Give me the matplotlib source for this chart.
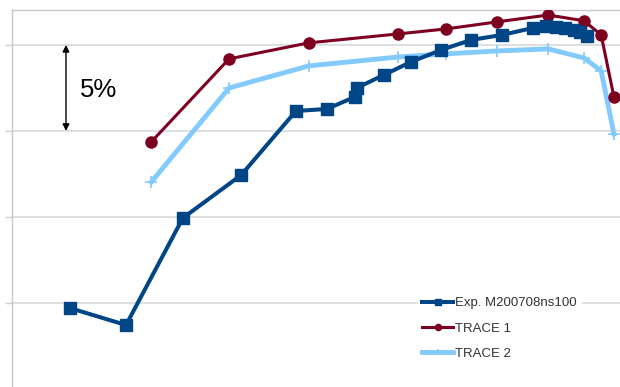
import matplotlib
matplotlib.use("Agg")
import matplotlib.pyplot as plt

plt.rcParams['font.family'] = ['Liberation Sans', 'DejaVu Sans']

# Measured series (x: operating point, y: relative value in %)
exp_x = [9.5, 18.75, 28.1, 37.7, 46.7, 51.8, 56.4, 56.7, 61.2, 65.6, 70.6, 75.5,
         80.6, 85.7, 87.8, 89.5, 91.0, 92.4, 93.4, 94.6]
exp_y = [84.71, 83.72, 89.94, 92.44, 96.16, 96.28, 96.98, 97.50, 98.26, 99.01,
         99.71, 100.29, 100.58, 100.99, 101.10, 101.05, 100.99, 100.87, 100.76, 100.52]

trace_x = [22.9, 35.7, 48.8, 63.5, 71.4, 79.8, 88.2, 94.1, 96.9, 99.0]
trace1_y = [94.36, 99.19, 100.12, 100.64, 100.93, 101.34, 101.74, 101.40, 100.58, 96.98]
trace2_y = [92.03, 97.50, 98.78, 99.30, 99.48, 99.65, 99.77, 99.24, 98.49, 94.83]

labels = ["Exp. M200708ns100", "TRACE 1", "TRACE 2"]
grid_levels = [85, 90, 95, 100]

fig = plt.figure(figsize=(6.2, 3.87), dpi=100)
ax = fig.add_axes([12 / 620, 0, 1 - 12 / 620, 1 - 10 / 387])

ax.plot(exp_x, exp_y, color="#004586", lw=2.9, marker="s", ms=9,
        label=labels[0], zorder=4)
ax.plot(trace_x, trace1_y, color="#7e0021", lw=2.2, marker="o", ms=8,
        label=labels[1], zorder=3)
ax.plot(trace_x, trace2_y, color="#83caff", lw=3.5, marker="+", ms=9, mew=1.2,
        label=labels[2], zorder=2)

ax.set_xlim(0, 100)
ax.set_ylim(80.12, 102.03)
ax.set_xticks([])
ax.set_yticks(grid_levels)
ax.set_yticklabels([])
ax.tick_params(axis="y", length=5, color="#d0d0d0", width=1)
ax.grid(axis="y", color="#d9d9d9", lw=1.2)
ax.set_axisbelow(True)
for side in ("right", "bottom"):
    ax.spines[side].set_visible(False)
for side in ("left", "top"):
    ax.spines[side].set_color("#c8c8c8")
    ax.spines[side].set_linewidth(1)

# 5% scale bar
ax.annotate("", xy=(8.88, 100), xytext=(8.88, 95),
            arrowprops=dict(arrowstyle="<|-|>", color="black", lw=1,
                            mutation_scale=10, shrinkA=0, shrinkB=0))
ax.text(11.1, 97.4, "5%", fontsize=18.5, va="center", ha="left", color="black")

leg = ax.legend(loc="upper left", bbox_to_anchor=(411 / 620, 1 - 286 / 387),
                bbox_transform=fig.transFigure, frameon=True, fancybox=False,
                edgecolor="white", facecolor="white", framealpha=1,
                fontsize=9.5, handlelength=2.35, handletextpad=0.1,
                labelspacing=0.98, markerscale=0.55, borderpad=0.35)
for t in leg.get_texts():
    t.set_color("#333333")

fig.savefig("out.png", dpi=100)
